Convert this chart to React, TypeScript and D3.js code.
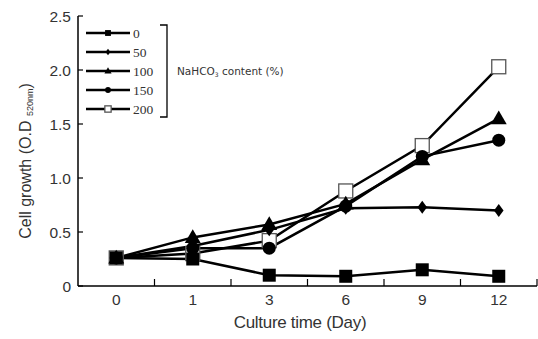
import React from 'react';
import * as d3 from 'd3';

const days = ['0', '1', '3', '6', '9', '12'];
const seriesNames = ['0', '50', '100', '150', '200'];
const markers = ['square', 'diamond', 'triangle', 'circle', 'openSquare'];
const s0 = [0.26, 0.25, 0.1, 0.09, 0.15, 0.09];
const s50 = [0.26, 0.37, 0.52, 0.72, 0.73, 0.7];
const s100 = [0.26, 0.45, 0.57, 0.76, 1.17, 1.55];
const s150 = [0.26, 0.35, 0.35, 0.74, 1.2, 1.35];
const s200 = [0.26, 0.3, 0.42, 0.88, 1.3, 2.03];
const allSeries = [s0, s50, s100, s150, s200];
const yTicks = [0, 0.5, 1.0, 1.5, 2.0, 2.5];

const W = 538, H = 339;
const m = { left: 78, right: 1, top: 16, bottom: 53 };

function Marker({ type, x, y, k = 1 }: { type: string; x: number; y: number; k?: number }) {
  if (type === 'square') return <rect x={x - 6.5 * k} y={y - 6.5 * k} width={13 * k} height={13 * k} fill="#000" />;
  if (type === 'openSquare')
    return <rect x={x - 7 * k} y={y - 7 * k} width={14 * k} height={14 * k} fill="#fff" stroke="#555" strokeWidth={1.3} />;
  if (type === 'circle') return <circle cx={x} cy={y} r={6.5 * k} fill="#000" />;
  if (type === 'triangle') {
    const p = d3.symbol(d3.symbolTriangle, 110 * k * k)();
    return <path d={p || ''} transform={`translate(${x},${y + k})`} fill="#000" />;
  }
  const p = d3.symbol(d3.symbolDiamond, 60 * k * k)();
  return <path d={p || ''} transform={`translate(${x},${y}) scale(1.15,0.9)`} fill="#000" />;
}

export default function App() {
  const x = d3.scaleBand().domain(days).range([m.left, W - m.right]);
  const y = d3.scaleLinear().domain([0, 2.5]).range([H - m.bottom, m.top]);
  const cx = (d: string) => (x(d) || 0) + x.bandwidth() / 2;
  const line = d3.line<number>().x((_, i) => cx(days[i])).y((v) => y(v));
  const font = 'Arial, "Liberation Sans", sans-serif';
  const legendRows = d3.scaleLinear().domain([0, 4]).range([33, 109]);
  // open squares sit underneath the filled markers
  const drawOrder = [4, 3, 2, 1, 0];

  return (
    <svg width={W} height={H} style={{ position: 'absolute', left: 0, top: 0, background: '#fff' }} fontFamily={font}>
      {/* axes */}
      <line x1={m.left} x2={m.left} y1={m.top} y2={y(0)} stroke="#000" strokeWidth={1.5} />
      <line x1={m.left} x2={W - 1} y1={y(0)} y2={y(0)} stroke="#000" strokeWidth={1.5} />
      {yTicks.map((t) => (
        <g key={t}>
          <line x1={m.left} x2={m.left + 5} y1={y(t)} y2={y(t)} stroke="#000" strokeWidth={1.2} />
          <text x={m.left - 7} y={y(t)} dy="0.36em" textAnchor="end" fontSize={15.5} fill="#333">
            {t === 0 ? '0' : t.toFixed(1)}
          </text>
        </g>
      ))}
      {days.map((d) => (
        <g key={d}>
          <line x1={(x(d) || 0) + x.step()} x2={(x(d) || 0) + x.step()} y1={y(0)} y2={y(0) - 7} stroke="#000" strokeWidth={1.2} />
          <text x={cx(d)} y={y(0) + 19} textAnchor="middle" fontSize={15.5} fill="#333">{d}</text>
        </g>
      ))}
      <text x={300} y={328} textAnchor="middle" fontSize={17} fill="#333" letterSpacing={-0.3}>Culture time (Day)</text>
      <text transform={`translate(31,161) rotate(-90)`} textAnchor="middle" fontSize={16} fill="#333">
        Cell growth (O.D <tspan fontSize={9} dy={2}>520nm</tspan><tspan dy={-2}>)</tspan>
      </text>

      {/* series */}
      {allSeries.map((s, i) => (
        <path key={'l' + i} d={line(s) || ''} fill="none" stroke="#000" strokeWidth={2.5} />
      ))}
      {drawOrder.map((i) => (
        <g key={'m' + i}>
          {allSeries[i].map((v, j) => (
            <Marker key={j} type={markers[i]} x={cx(days[j])} y={y(v)} />
          ))}
        </g>
      ))}

      {/* legend */}
      {seriesNames.map((n, i) => (
        <g key={n}>
          <line x1={86} x2={130} y1={legendRows(i)} y2={legendRows(i)} stroke="#000" strokeWidth={2.5} />
          <Marker type={markers[i]} x={108} y={legendRows(i)} k={markers[i] === 'diamond' ? 0.5 : 0.45} />
          <text x={133} y={legendRows(i)} dy="0.36em" fontSize={13.5} fill="#333" fontFamily='"Liberation Serif", serif'>{n}</text>
        </g>
      ))}
      <path d={`M160,25H167V117H160`} fill="none" stroke="#000" strokeWidth={1.3} />
      <text x={177} y={legendRows(2)} dy="0.36em" fontSize={10.5} fill="#333" fontFamily='"DejaVu Sans", sans-serif'>
        NaHCO<tspan fontSize={6} dy={2}>3</tspan><tspan dy={-2}> content  (%)</tspan>
      </text>
    </svg>
  );
}
